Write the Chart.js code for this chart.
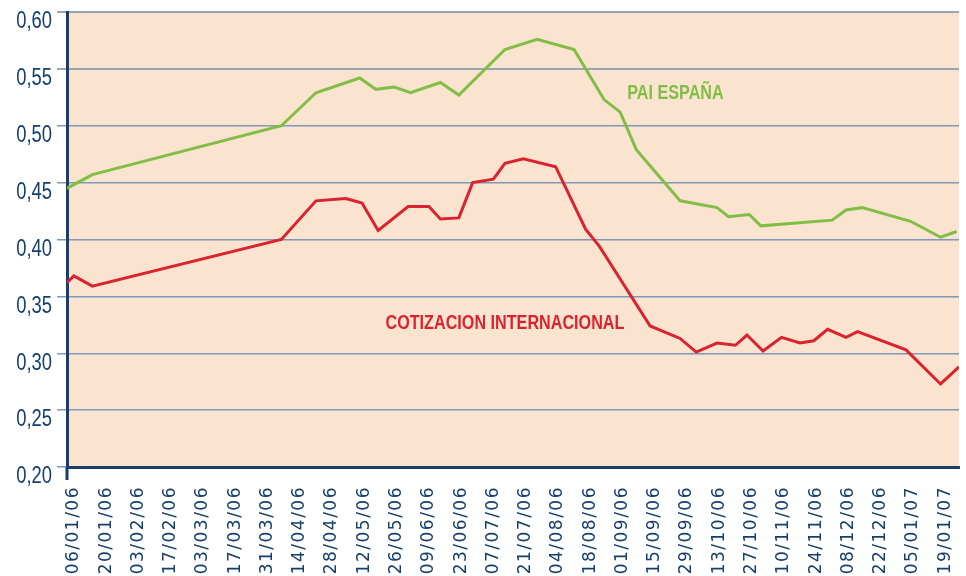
<!DOCTYPE html>
<html>
<head>
<meta charset="utf-8">
<script src="https://cdn.jsdelivr.net/npm/chart.js@4/dist/chart.umd.min.js"></script>
<style>
  html, body { margin: 0; padding: 0; background: #ffffff; }
  #wrap { width: 966px; height: 576px; }
</style>
</head>
<body>
<div id="wrap"><canvas id="priceChart" width="966" height="576"></canvas></div>
<script>
// --- data (x = days since 06/01/06) ---
const TICK_LABELS = ['06/01/06', '20/01/06', '03/02/06', '17/02/06', '03/03/06', '17/03/06', '31/03/06',
    '14/04/06', '28/04/06', '12/05/06', '26/05/06', '09/06/06', '23/06/06', '07/07/06', '21/07/06',
    '04/08/06', '18/08/06', '01/09/06', '15/09/06', '29/09/06', '13/10/06', '27/10/06', '10/11/06',
    '24/11/06', '08/12/06', '22/12/06', '05/01/07', '19/01/07'];

const PAI_DAYS = [-3, 8, 90, 105, 124, 131, 139, 146, 159, 167, 187, 201, 217, 230, 237, 244,
    263, 279, 284, 293, 298, 329, 335, 342, 363, 376, 383];
const PAI_VALUES = [0.445, 0.457, 0.500, 0.529, 0.542, 0.532, 0.534, 0.529, 0.538, 0.527, 0.567, 0.576,
    0.567, 0.523, 0.512, 0.479, 0.434, 0.428, 0.420, 0.422, 0.412, 0.417, 0.426, 0.428, 0.416, 0.402, 0.407];

const COT_DAYS = [-3, 0, 8, 90, 105, 118, 125, 132, 145, 154, 159, 167, 173, 182, 187, 195, 209,
    222, 228, 250, 263, 270, 279, 287, 292, 299, 307, 315, 321, 327, 335, 340, 361, 376, 384];
const COT_VALUES = [0.362, 0.368, 0.359, 0.400, 0.434, 0.436, 0.432, 0.408, 0.429, 0.429, 0.418, 0.419,
    0.450, 0.453, 0.467, 0.471, 0.464, 0.409, 0.394, 0.324, 0.313, 0.301, 0.309, 0.307, 0.316, 0.302,
    0.314, 0.309, 0.311, 0.321, 0.314, 0.319, 0.303, 0.273, 0.288];

const Y_MIN = 0.20, Y_MAX = 0.60, Y_STEP = 0.05;

// --- styling ---
const NAVY = '#153f6c';
const GREEN = '#82bd45';
const RED = '#d9232f';
const PEACH = '#fbe4cf';
// no narrow face installed, so squeeze Liberation Sans horizontally
const NARROW = 0.8;

// series name labels placed in data space
const SERIES_NOTES = [
    { text: 'PAI ESPAÑA', x: 261, y: 0.529, color: GREEN },
    { text: 'COTIZACION INTERNACIONAL', x: 187, y: 0.326, color: RED }
];

const toPoints = (xs, ys) => xs.map((x, i) => ({ x: x, y: ys[i] }));

function narrowText(ctx, text, x, y, align, squeeze) {
    ctx.save();
    ctx.translate(x, y);
    ctx.scale(squeeze, 1);
    ctx.textAlign = align;
    ctx.fillText(text, 0, 0);
    ctx.restore();
}

const plotBackground = {
    id: 'plotBackground',
    beforeDraw(chart) {
        const { ctx, chartArea: a } = chart;
        ctx.save();
        ctx.fillStyle = PEACH;
        ctx.fillRect(a.left, a.top, a.right - a.left, a.bottom - a.top);
        ctx.restore();
        // tracking for the date labels drawn by the x scale
        ctx.letterSpacing = '1.5px';
    },
    afterDraw(chart) {
        const { ctx, chartArea: a, scales } = chart;
        ctx.save();
        ctx.letterSpacing = '0px';
        // axis stub below the corner
        ctx.strokeStyle = NAVY;
        ctx.lineWidth = 3;
        ctx.beginPath();
        ctx.moveTo(a.left, a.bottom);
        ctx.lineTo(a.left, a.bottom + 13);
        ctx.stroke();
        // y tick labels
        ctx.fillStyle = NAVY;
        ctx.font = '23px "Liberation Sans", Arial, sans-serif';
        ctx.textBaseline = 'middle';
        scales.y.ticks.forEach(t => {
            const label = t.value.toFixed(2).replace('.', ',');
            narrowText(ctx, label, a.left - 15, scales.y.getPixelForValue(t.value) + 10, 'right', NARROW);
        });
        ctx.restore();
        ctx.letterSpacing = '0px';
    }
};

const seriesNotes = {
    id: 'seriesNotes',
    afterDatasetsDraw(chart) {
        const { ctx, scales } = chart;
        ctx.save();
        ctx.letterSpacing = '0px';
        ctx.font = 'bold 21px "Liberation Sans", Arial, sans-serif';
        ctx.textBaseline = 'middle';
        SERIES_NOTES.forEach(n => {
            ctx.fillStyle = n.color;
            narrowText(ctx, n.text, scales.x.getPixelForValue(n.x), scales.y.getPixelForValue(n.y), 'center', 0.77);
        });
        ctx.restore();
    }
};

new Chart(document.getElementById('priceChart'), {
    type: 'line',
    data: {
        datasets: [{
            label: 'PAI ESPAÑA',
            data: toPoints(PAI_DAYS, PAI_VALUES),
            borderColor: GREEN,
            borderWidth: 3,
            pointRadius: 0,
            tension: 0,
            fill: false
        }, {
            label: 'COTIZACION INTERNACIONAL',
            data: toPoints(COT_DAYS, COT_VALUES),
            borderColor: RED,
            borderWidth: 3,
            pointRadius: 0,
            tension: 0,
            fill: false
        }]
    },
    options: {
        responsive: false,
        animation: false,
        devicePixelRatio: 1,
        layout: { padding: { top: 12, right: 7, left: 0, bottom: 0 } },
        plugins: {
            legend: { display: false },
            tooltip: { enabled: false }
        },
        scales: {
            x: {
                type: 'linear',
                min: -3,
                max: 384,
                afterBuildTicks: axis => {
                    axis.ticks = TICK_LABELS.map((_, i) => ({ value: i * 14 }));
                },
                afterFit: axis => {
                    axis.height = 109;
                    axis.paddingLeft = 0;
                    axis.paddingRight = 0;
                },
                grid: { display: false, drawTicks: false },
                border: { display: true, color: NAVY, width: 3 },
                ticks: {
                    autoSkip: false,
                    minRotation: 90,
                    maxRotation: 90,
                    padding: 19,
                    color: NAVY,
                    font: { family: '"DejaVu Sans", Verdana, sans-serif', size: 17 },
                    callback: (v, i) => TICK_LABELS[i]
                }
            },
            y: {
                min: Y_MIN,
                max: Y_MAX,
                afterFit: axis => {
                    axis.width = 67;
                    axis.paddingTop = 0;
                    axis.paddingBottom = 0;
                },
                grid: {
                    color: ctx => ctx.tick && ctx.tick.value >= 0.549 ? '#98a3b3' : '#7f97b8',
                    lineWidth: ctx => ctx.tick && ctx.tick.value >= 0.549 ? 2 : 1.5,
                    drawTicks: true,
                    tickLength: 10
                },
                border: { display: true, color: NAVY, width: 3 },
                ticks: {
                    stepSize: Y_STEP,
                    display: false
                }
            }
        }
    },
    plugins: [plotBackground, seriesNotes]
});
</script>
</body>
</html>
